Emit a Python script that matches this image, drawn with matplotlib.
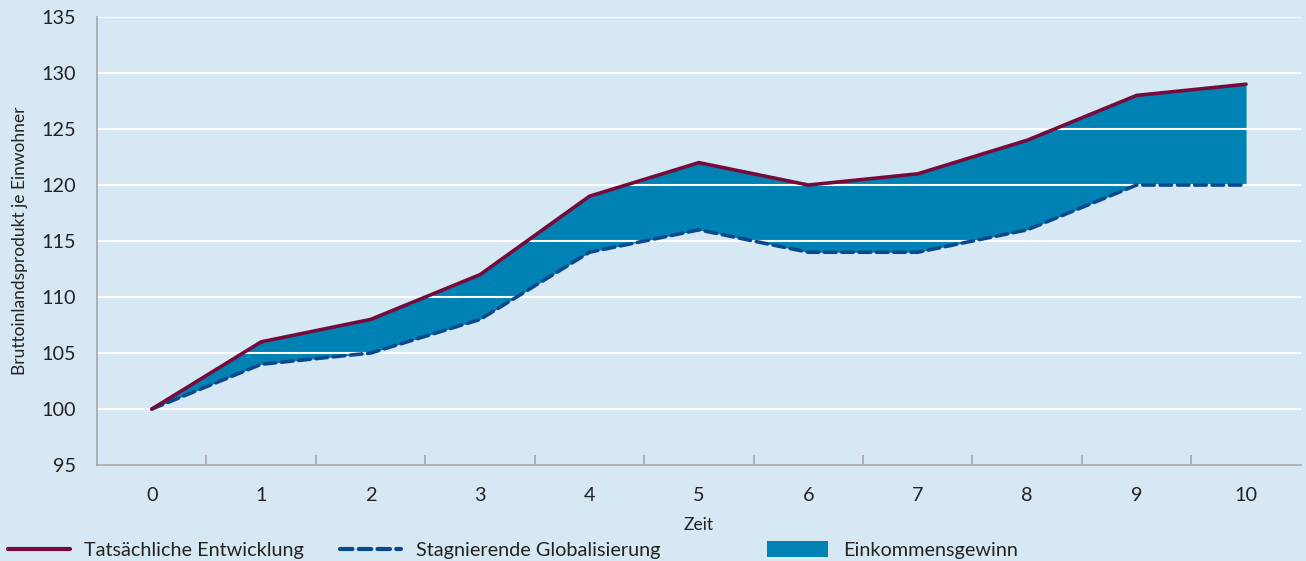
import numpy as np
import matplotlib.pyplot as plt
from matplotlib.patches import Patch
from matplotlib.lines import Line2D

plt.rcParams['font.family'] = ['Lato', 'DejaVu Sans']

# data
zeit = list(range(11))
tatsaechlich = [100, 106, 108, 112, 119, 122, 120, 121, 124, 128, 129]
stagnierend = [100, 104, 105, 108, 114, 116, 114, 114, 116, 120, 120]
y_ticks = [95, 100, 105, 110, 115, 120, 125, 130, 135]

bg = '#d7e8f5'
red = '#760b3b'
blue = '#0a4a8c'
fill = '#0082b4'
txt = '#222222'

fig = plt.figure(figsize=(13.06, 5.61), dpi=100, facecolor=bg)
ax = fig.add_axes([0.0743, 0.171, 0.9217, 0.7987])
ax.set_facecolor(bg)

ax.fill_between(zeit, stagnierend, tatsaechlich, color=fill, lw=0, zorder=0.3)
ax.plot(zeit, stagnierend, color=blue, lw=2.6, ls=(0, (3.2, 1.6)),
        dash_capstyle='round', solid_capstyle='round', zorder=2)
ax.plot(zeit, tatsaechlich, color=red, lw=2.6, solid_capstyle='round', zorder=3)

ax.set_xlim(-0.5, 10.5)
ax.set_ylim(95, 135)
ax.set_yticks(y_ticks)
ax.set_xticks(zeit)
ax.set_xticks(np.arange(0.5, 10, 1), minor=True)

ax.set_axisbelow(True)
ax.grid(axis='y', color='white', lw=1.5)
ax.grid(axis='x', visible=False)

for s in ['top', 'right']:
    ax.spines[s].set_visible(False)
for s in ['left', 'bottom']:
    ax.spines[s].set_color('#a8a8a8')
    ax.spines[s].set_linewidth(1.2)

ax.tick_params(axis='y', length=0, pad=15, labelsize=14.3, labelcolor=txt)
ax.tick_params(axis='x', which='major', length=0, pad=16, labelsize=14.3, labelcolor=txt)
ax.tick_params(axis='x', which='minor', direction='in', length=7, width=1.2, color='#a8a8a8')

ax.set_ylabel('Bruttoinlandsprodukt je Einwohner', fontsize=12.5, color=txt, labelpad=10)
ax.set_xlabel('Zeit', fontsize=12.5, color=txt, labelpad=9)

handles = [
    Line2D([], [], color=red, lw=3, solid_capstyle='round'),
    Line2D([], [], color=blue, lw=3, ls=(0, (3, 1.5)), dash_capstyle='round'),
    Patch(facecolor=fill, edgecolor='none'),
]
labels = ['Tatsächliche Entwicklung', 'Stagnierende Globalisierung', 'Einkommensgewinn']
x_pos = [0.0, 0.254, 0.581]
for h, l, x in zip(handles, labels, x_pos):
    fig.legend([h], [l], loc='center left', bbox_to_anchor=(x, 0.019), frameon=False,
               fontsize=14.3, handlelength=3.1, handletextpad=0.75, borderaxespad=0,
               labelcolor=txt, handleheight=0.85)

fig.savefig('out.png', dpi=100, facecolor=bg)
